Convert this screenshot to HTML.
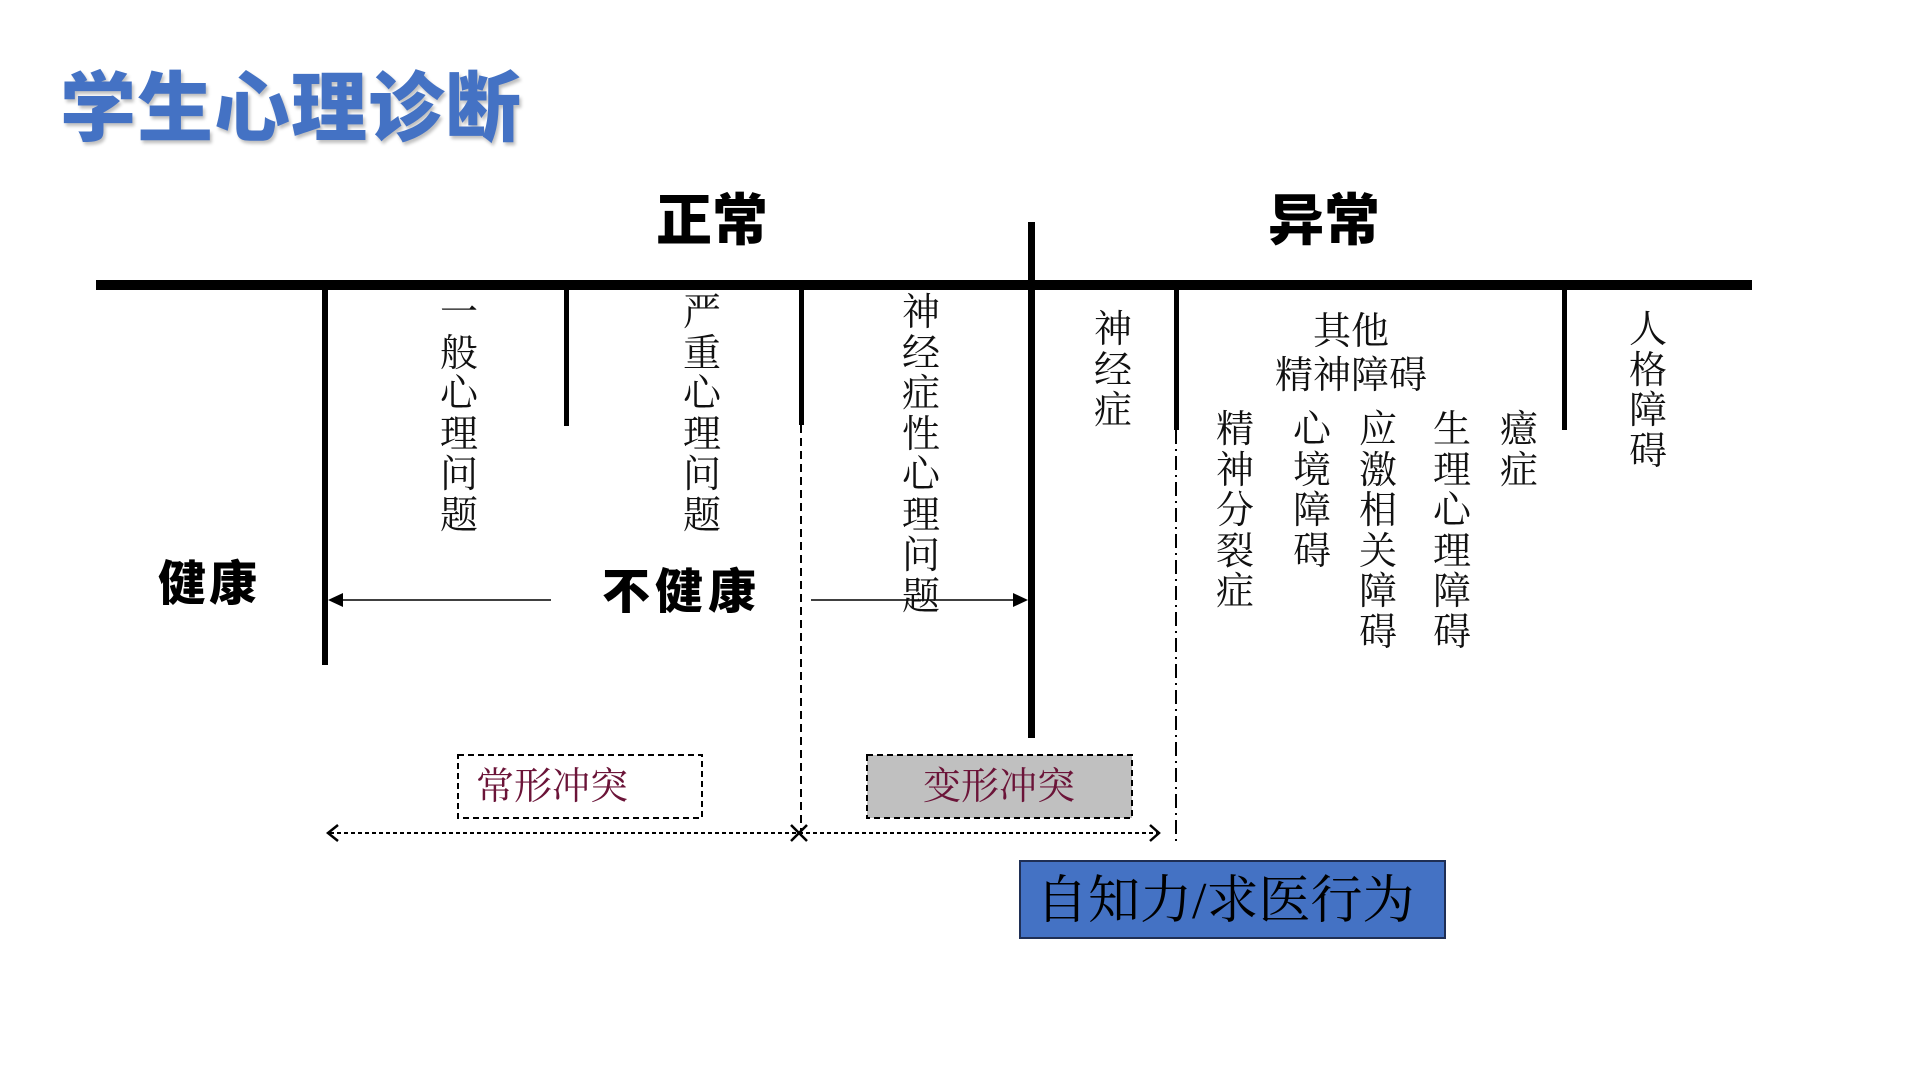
<!DOCTYPE html>
<html><head><meta charset="utf-8"><style>
body{margin:0;width:1920px;height:1080px;background:#fff;position:relative;overflow:hidden;font-family:"Liberation Serif","Noto Serif CJK SC",serif}
.t{position:absolute;white-space:nowrap}
.v{position:absolute;width:40px;font-size:38px;line-height:40.5px;text-align:center;word-break:break-all;white-space:normal;color:#111;transform:translateX(-50%)}
.b{font-family:"Liberation Sans","Noto Sans CJK SC",sans-serif;font-weight:900;color:#000}
</style></head><body>
<div class="t" style="left:60px;top:62px;font-size:76px;line-height:96px;letter-spacing:1px;font-family:'Liberation Sans','Noto Sans CJK SC',sans-serif;font-weight:900;color:#4472C4;text-shadow:2px 3px 3px rgba(0,0,0,0.25)">学生心理诊断</div>

<svg width="1920" height="1080" style="position:absolute;left:0;top:0">
<rect x="96" y="280" width="1656" height="10" fill="#000"/>
<rect x="1028" y="222" width="7" height="516" fill="#000"/>
<rect x="322" y="285" width="6" height="380" fill="#000"/>
<rect x="564" y="285" width="5" height="141" fill="#000"/>
<rect x="799" y="285" width="5" height="140" fill="#000"/>
<rect x="1174" y="285" width="5" height="145" fill="#000"/>
<rect x="1562" y="285" width="5" height="145" fill="#000"/>
<line x1="801" y1="425" x2="801" y2="840" stroke="#000" stroke-width="2" stroke-dasharray="8,5"/>
<line x1="1176" y1="430" x2="1176" y2="842" stroke="#000" stroke-width="2" stroke-dasharray="14,5,2,5"/>
<line x1="551" y1="600" x2="338" y2="600" stroke="#000" stroke-width="1.5"/>
<path d="M328,600 L343,593 L343,607z" fill="#000"/>
<line x1="811" y1="600" x2="1018" y2="600" stroke="#000" stroke-width="1.5"/>
<path d="M1028,600 L1013,593 L1013,607z" fill="#000"/>
<rect x="458" y="755" width="244" height="63" fill="none" stroke="#000" stroke-width="2" stroke-dasharray="6,4"/>
<rect x="867" y="755" width="265" height="63" fill="#c0c0c0" stroke="#000" stroke-width="2" stroke-dasharray="6,4"/>
<line x1="330" y1="833" x2="1157" y2="833" stroke="#000" stroke-width="2" stroke-dasharray="4,3"/>
<path d="M338,825 L328,833 L338,841 M791,825 L799,833 L791,841 M807,825 L799,833 L807,841 M1150,825 L1159,833 L1150,841" fill="none" stroke="#000" stroke-width="2.5"/>
<rect x="1020" y="861" width="425" height="77" fill="#4472C4" stroke="#1f2f55" stroke-width="2"/>
</svg>

<div class="t b" style="left:656px;top:186px;font-size:56px;line-height:70px">正常</div>
<div class="t b" style="left:1268px;top:186px;font-size:56px;line-height:70px">异常</div>
<div class="t b" style="left:158px;top:555px;font-size:48px;line-height:60px;letter-spacing:3px">健康</div>
<div class="t b" style="left:602px;top:563px;font-size:48px;line-height:60px;letter-spacing:5px">不健康</div>

<div class="v" style="left:459px;top:293px">一般心理问题</div>
<div class="v" style="left:702px;top:293px">严重心理问题</div>
<div class="v" style="left:921px;top:293px">神经症性心理问题</div>
<div class="v" style="left:1113px;top:310px">神经症</div>
<div class="t" style="left:1351px;top:310px;font-size:38px;line-height:44px;transform:translateX(-50%);text-align:center;color:#111">其他<br>精神障碍</div>
<div class="v" style="left:1235px;top:410px">精神分裂症</div>
<div class="v" style="left:1312px;top:410px">心境障碍</div>
<div class="v" style="left:1378px;top:410px">应激相关障碍</div>
<div class="v" style="left:1452px;top:410px">生理心理障碍</div>
<div class="v" style="left:1519px;top:410px">癔症</div>
<div class="v" style="left:1648px;top:310px">人格障碍</div>

<div class="t" style="left:476px;top:762px;font-size:38px;line-height:50px;color:#6b1438">常形冲突</div>
<div class="t" style="left:923px;top:762px;font-size:38px;line-height:50px;color:#6b1438">变形冲突</div>
<div class="t" style="left:1036px;top:872px;font-size:52px;line-height:60px;color:#000">自知力/求医行为</div>
</body></html>
